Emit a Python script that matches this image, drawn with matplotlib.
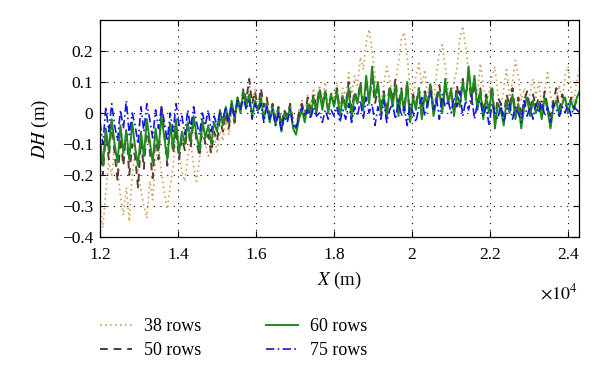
import numpy as np
import matplotlib
matplotlib.use("Agg")
import matplotlib.pyplot as plt
from matplotlib.ticker import FuncFormatter, MultipleLocator

plt.rcParams['font.family'] = ['Liberation Serif', 'DejaVu Serif']
plt.rcParams['mathtext.fontset'] = 'stix'

# X positions (m): 12000 .. 24300, step 75 m
x_start, x_step, n_pts = 12000, 75, 165
x = x_start + x_step * np.arange(n_pts)

rows38 = [
    -0.30, -0.37, -0.25, -0.16, -0.20, -0.11, -0.18, -0.27, -0.33, -0.24,
    -0.35, -0.20, -0.12, -0.18, -0.25, -0.30, -0.34, -0.22, -0.28, -0.15,
    -0.10, -0.19, -0.26, -0.31, -0.24, -0.17, -0.08, -0.12, -0.19, -0.22,
    -0.14, -0.09, -0.17, -0.22, -0.15, -0.07, -0.10, -0.14, -0.11, -0.06,
    -0.13, -0.06, -0.09, -0.02, -0.07, 0.01, -0.04, 0.03, 0.00, 0.06,
    0.02, 0.10, 0.04, 0.08, 0.00, 0.06, 0.02, 0.04, -0.01, 0.03,
    -0.02, 0.02, -0.04, 0.01, -0.01, 0.03, -0.03, -0.04, 0.01, 0.04,
    0.00, 0.06, 0.02, 0.08, 0.03, 0.09, 0.04, 0.10, 0.02, 0.07,
    0.04, 0.10, 0.02, 0.08, 0.05, 0.13, 0.06, 0.12, 0.09, 0.18,
    0.14, 0.23, 0.27, 0.20, 0.12, 0.06, 0.03, 0.09, 0.15, 0.11,
    0.05, 0.10, 0.16, 0.24, 0.26, 0.18, 0.08, 0.04, 0.12, 0.16,
    0.09, 0.14, 0.05, 0.08, 0.03, 0.12, 0.20, 0.22, 0.15, 0.07,
    0.04, 0.10, 0.14, 0.24, 0.28, 0.21, 0.13, 0.08, 0.11, 0.06,
    0.16, 0.09, 0.03, 0.07, 0.12, 0.15, 0.06, 0.02, 0.08, 0.14,
    0.05, 0.10, 0.17, 0.12, 0.04, 0.08, 0.02, 0.06, 0.11, 0.05,
    0.10, 0.02, 0.07, 0.13, 0.06, 0.01, 0.05, 0.09, 0.04, 0.12,
    0.15, 0.08, 0.03, 0.11, 0.14,
]

rows50 = [
    -0.10, -0.20, -0.06, -0.15, -0.03, -0.13, -0.22, -0.08, -0.17, -0.05,
    -0.20, -0.10, -0.14, -0.24, -0.09, -0.18, -0.04, -0.12, -0.21, -0.07,
    -0.15, 0.02, -0.06, -0.17, -0.03, -0.13, -0.05, -0.15, -0.08, -0.12,
    -0.04, -0.11, -0.02, -0.09, -0.14, -0.04, -0.10, -0.07, -0.13, -0.06,
    -0.09, -0.02, -0.06, 0.00, -0.05, 0.03, -0.03, 0.05, 0.01, 0.08,
    0.04, 0.11, 0.03, 0.07, 0.01, 0.08, 0.02, 0.05, -0.01, 0.03,
    -0.02, 0.02, -0.04, 0.01, -0.01, 0.03, -0.03, -0.05, 0.00, 0.03,
    -0.01, 0.05, 0.01, 0.06, 0.02, 0.08, 0.03, 0.07, 0.01, 0.06,
    0.03, 0.08, 0.00, 0.06, 0.02, 0.10, 0.01, 0.07, 0.04, 0.10,
    0.02, 0.09, 0.04, 0.11, 0.03, 0.08, 0.01, 0.07, 0.00, 0.09,
    0.04, 0.11, 0.02, 0.08, 0.01, 0.10, -0.02, 0.06, 0.03, 0.08,
    0.01, 0.07, 0.03, 0.10, 0.00, 0.05, 0.09, 0.02, 0.08, 0.04,
    0.07, 0.01, 0.09, 0.03, 0.11, 0.05, 0.12, 0.03, 0.10, 0.02,
    0.08, 0.00, 0.06, 0.02, 0.09, -0.02, 0.05, 0.03, -0.01, 0.06,
    0.02, 0.08, 0.00, 0.05, -0.01, 0.04, 0.07, 0.01, 0.06, 0.02,
    0.05, 0.00, 0.07, 0.02, -0.01, 0.04, 0.08, 0.01, 0.06, 0.03,
    0.01, 0.05, 0.02, 0.04, 0.03,
]

rows60 = [
    -0.08, -0.17, -0.05, -0.12, -0.02, -0.10, -0.16, -0.04, -0.13, -0.06,
    -0.15, -0.03, -0.11, -0.17, -0.06, -0.14, -0.02, -0.09, -0.16, -0.05,
    -0.12, -0.01, -0.08, -0.15, -0.04, -0.11, -0.02, -0.13, -0.06, -0.10,
    -0.03, -0.09, -0.01, -0.07, -0.12, -0.02, -0.08, -0.04, -0.10, -0.03,
    -0.06, 0.01, -0.04, 0.02, -0.03, 0.04, -0.02, 0.05, 0.00, 0.07,
    0.02, 0.06, -0.01, 0.04, 0.01, 0.05, -0.02, 0.03, -0.03, 0.02,
    -0.04, 0.01, -0.06, 0.00, -0.02, 0.02, -0.05, -0.07, -0.02, 0.01,
    -0.03, 0.03, -0.01, 0.05, 0.00, 0.07, 0.01, 0.07, 0.00, 0.06,
    0.02, 0.07, -0.01, 0.05, 0.01, 0.08, -0.02, 0.06, 0.03, 0.09,
    0.01, 0.12, 0.03, 0.15, 0.05, 0.10, 0.00, 0.06, -0.02, 0.08,
    0.02, 0.09, -0.01, 0.07, 0.00, 0.10, -0.03, 0.05, 0.01, 0.08,
    -0.02, 0.06, 0.02, 0.09, -0.01, 0.04, 0.07, 0.00, 0.11, 0.03,
    0.08, -0.01, 0.06, 0.02, 0.10, 0.04, 0.15, 0.05, 0.12, 0.01,
    0.07, -0.02, 0.05, 0.00, 0.08, -0.05, 0.03, 0.01, -0.04, 0.04,
    0.00, 0.06, -0.02, 0.03, -0.05, 0.02, 0.05, -0.01, 0.04, 0.00,
    0.03, -0.02, 0.05, 0.01, -0.05, 0.02, 0.04, -0.01, 0.03, 0.05,
    0.00, 0.04, 0.01, 0.05, 0.07,
]

rows75 = [
    -0.03, -0.10, 0.02, -0.06, 0.03, -0.04, -0.09, 0.01, -0.05, 0.04,
    -0.07, 0.00, -0.04, -0.10, 0.02, -0.06, 0.03, -0.02, -0.08, 0.01,
    -0.05, 0.02, -0.03, -0.09, 0.00, -0.06, 0.03, -0.04, -0.01, -0.07,
    0.01, -0.05, 0.02, -0.03, -0.07, 0.00, -0.04, 0.01, -0.06, -0.01,
    -0.04, 0.00, -0.02, 0.02, -0.03, 0.03, -0.01, 0.04, 0.01, 0.05,
    0.01, 0.04, -0.02, 0.03, 0.00, 0.03, -0.03, 0.02, -0.02, 0.01,
    -0.04, 0.00, -0.06, -0.01, -0.03, 0.01, -0.04, -0.05, -0.01, 0.02,
    -0.01, 0.01, -0.02, 0.02, -0.01, 0.00, -0.03, 0.01, -0.02, 0.01,
    -0.01, 0.02, -0.03, 0.01, -0.02, 0.03, -0.03, 0.02, -0.01, 0.04,
    -0.02, 0.05, 0.00, 0.03, -0.04, 0.02, -0.02, 0.04, -0.03, 0.01,
    0.03, -0.02, 0.04, -0.01, 0.02, -0.04, 0.03, 0.00, -0.03, 0.02,
    0.05, -0.01, 0.03, 0.07, 0.01, 0.05, -0.02, 0.06, 0.02, 0.04,
    0.00, 0.05, 0.02, 0.07, -0.01, 0.04, 0.01, 0.06, -0.02, 0.03,
    0.04, -0.01, 0.02, -0.04, 0.03, 0.00, -0.02, 0.03, -0.03, 0.01,
    0.03, -0.02, 0.02, 0.00, -0.03, 0.04, -0.01, 0.02, -0.02, 0.03,
    0.00, 0.04, -0.01, 0.02, -0.03, 0.03, 0.01, -0.01, 0.02, 0.00,
    0.03, -0.01, 0.02, 0.01, 0.00,
]

labels = ["38 rows", "50 rows", "60 rows", "75 rows"]
series = [rows38, rows50, rows60, rows75]
colors = ["#C9A25E", "#5A3A33", "#1E8A1E", "#1414E6"]
styles = [(0, (1, 2)), (0, (4, 3)), "-", (0, (5, 2, 1, 2))]
widths = [1.2, 1.4, 1.4, 1.2]

fig = plt.figure(figsize=(6.0, 3.81), dpi=100)
ax = fig.add_axes([100/600, 1-237/381, 479/600, 217/381])

for y, lab, c, ls, lw in zip(series, labels, colors, styles, widths):
    ax.plot(x, np.array(y), color=c, linestyle=ls, linewidth=lw, label=lab)

ax.set_xlim(12000, 24280)
ax.set_ylim(-0.4, 0.3)
ax.xaxis.set_major_locator(MultipleLocator(2000))
ax.set_yticks([-0.4, -0.3, -0.2, -0.1, 0, 0.1, 0.2])
ax.xaxis.set_major_formatter(FuncFormatter(lambda v, p: "%g" % round(v/1e4, 2)))
ax.yaxis.set_major_formatter(FuncFormatter(lambda v, p: ("%g" % round(v, 2)).replace("-", "\u2212")))
ax.tick_params(direction="in", length=4, width=0.8, labelsize=12.5, top=True, right=True)
ax.tick_params(axis="x", pad=7.5)
ax.tick_params(axis="y", pad=5)
ax.grid(True, color="black", linestyle=(0, (1, 5)), linewidth=0.8)
for s in ax.spines.values():
    s.set_linewidth(0.9)

ax.set_xlabel(r"$\mathit{X}$ (m)", fontsize=13.5, labelpad=5)
ax.set_ylabel(r"$\mathit{DH}$ (m)", fontsize=13.5, labelpad=8)
fig.text(578/600, 1-293/381, r"$\times10^{4}$", ha="right", va="center", fontsize=13)

fig.legend(loc="upper left", bbox_to_anchor=(84/600, 1-302/381), ncol=2, frameon=False,
           fontsize=13, handlelength=1.77, columnspacing=3.6, handletextpad=0.66, labelspacing=0.38)

fig.savefig("out.png", dpi=100)
